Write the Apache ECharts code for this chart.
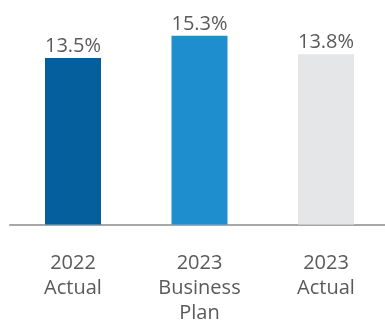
<!DOCTYPE html>
<html><head><meta charset="utf-8">
<script src="https://cdn.jsdelivr.net/npm/echarts@6/dist/echarts.min.js"></script>
<style>html,body{margin:0;padding:0;background:#fff}#c{width:385px;height:320px}</style>
</head><body><div id="c"></div>
<script>
const categories = ['2022\nActual', '2023\nBusiness\nPlan', '2023\nActual'];
const values = [13.5, 15.3, 13.8];
const barColors = ['#065f9d', '#1f8ecf', '#e5e6e8'];
const chart = echarts.init(document.getElementById('c'));
chart.setOption({
  animation: false,
  grid: { left: 9.75, width: 379.5, top: 2.5, bottom: 95.5, outerBoundsMode: 'none', containLabel: false },
  xAxis: {
    type: 'category', data: categories,
    axisLine: { lineStyle: { color: '#8a8a8a', width: 1.5 } },
    axisTick: { show: false },
    axisLabel: { color: '#5a5a5a', fontFamily: 'Open Sans', fontSize: 20, lineHeight: 25, margin: 26, interval: 0 }
  },
  yAxis: { type: 'value', min: 0, max: 18, show: false, splitLine: { show: false } },
  series: [{
    type: 'bar', barWidth: 56,
    data: values.map((v, i) => ({ value: v, itemStyle: { color: barColors[i] } })),
    label: { show: true, position: 'top', distance: 2, formatter: p => p.value.toFixed(1) + '%', color: '#5a5a5a', fontFamily: 'Open Sans', fontSize: 20 }
  }]
});
</script></body></html>
